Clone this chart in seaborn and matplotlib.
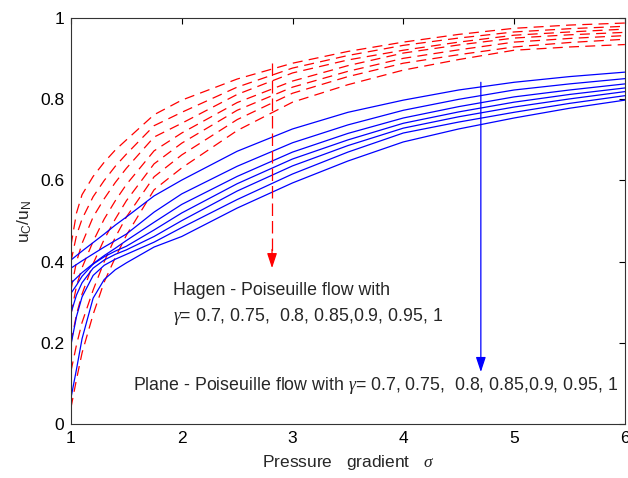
import numpy as np
import pandas as pd
import matplotlib
matplotlib.use("Agg")
import matplotlib.pyplot as plt
import seaborn as sns

# ---- data ----
sigma = [1, 1.05, 1.1, 1.2, 1.3, 1.4, 1.5, 1.75, 2, 2.5, 3, 3.5, 4, 4.5, 5, 5.5, 6]

hagen_1 = [0.44, 0.52, 0.565, 0.61, 0.645, 0.675, 0.70, 0.762, 0.798, 0.85, 0.889, 0.918, 0.941, 0.96, 0.975, 0.983, 0.988]
hagen_2 = [0.40, 0.465, 0.505, 0.56, 0.60, 0.635, 0.665, 0.735, 0.768, 0.83, 0.877, 0.908, 0.933, 0.951, 0.966, 0.974, 0.98]
hagen_3 = [0.33, 0.40, 0.445, 0.51, 0.555, 0.595, 0.63, 0.707, 0.741, 0.812, 0.865, 0.897, 0.921, 0.941, 0.958, 0.966, 0.973]
hagen_4 = [0.27, 0.34, 0.385, 0.45, 0.505, 0.55, 0.59, 0.673, 0.717, 0.792, 0.845, 0.883, 0.914, 0.934, 0.951, 0.959, 0.965]
hagen_5 = [0.20, 0.27, 0.32, 0.395, 0.455, 0.505, 0.55, 0.641, 0.692, 0.773, 0.830, 0.869, 0.901, 0.922, 0.941, 0.95, 0.957]
hagen_6 = [0.13, 0.195, 0.25, 0.33, 0.40, 0.46, 0.51, 0.609, 0.663, 0.75, 0.815, 0.856, 0.889, 0.91, 0.929, 0.94, 0.948]
hagen_7 = [0.04, 0.11, 0.175, 0.27, 0.35, 0.41, 0.465, 0.577, 0.631, 0.723, 0.793, 0.836, 0.872, 0.898, 0.921, 0.929, 0.935]

plane_1 = [0.404, 0.415, 0.426, 0.447, 0.468, 0.49, 0.51, 0.562, 0.601, 0.672, 0.727, 0.768, 0.798, 0.823, 0.842, 0.856, 0.867]
plane_2 = [0.384, 0.393, 0.402, 0.419, 0.436, 0.452, 0.468, 0.522, 0.567, 0.635, 0.693, 0.737, 0.773, 0.8, 0.823, 0.838, 0.851]
plane_3 = [0.347, 0.36, 0.373, 0.395, 0.415, 0.433, 0.452, 0.497, 0.541, 0.61, 0.670, 0.716, 0.754, 0.782, 0.806, 0.823, 0.838]
plane_4 = [0.322, 0.342, 0.364, 0.394, 0.412, 0.426, 0.438, 0.478, 0.52, 0.592, 0.653, 0.7, 0.741, 0.769, 0.793, 0.812, 0.828]
plane_5 = [0.273, 0.318, 0.348, 0.384, 0.404, 0.418, 0.429, 0.462, 0.501, 0.574, 0.636, 0.686, 0.729, 0.757, 0.781, 0.801, 0.819]
plane_6 = [0.195, 0.265, 0.313, 0.366, 0.391, 0.406, 0.418, 0.448, 0.484, 0.553, 0.616, 0.67, 0.717, 0.744, 0.768, 0.79, 0.809]
plane_7 = [0.064, 0.135, 0.21, 0.31, 0.356, 0.38, 0.397, 0.436, 0.462, 0.532, 0.594, 0.648, 0.695, 0.727, 0.754, 0.778, 0.798]

hagen = [hagen_1, hagen_2, hagen_3, hagen_4, hagen_5, hagen_6, hagen_7]
plane = [plane_1, plane_2, plane_3, plane_4, plane_5, plane_6, plane_7]

x_ticks = [1, 2, 3, 4, 5, 6]
y_ticks = [0, 0.2, 0.4, 0.6, 0.8, 1]
y_tick_labels = ["0", "0.2", "0.4", "0.6", "0.8", "1"]

hagen_text_1 = "Hagen - Poiseuille flow with"
hagen_text_2 = r"$\gamma$= 0.7, 0.75,  0.8, 0.85,0.9, 0.95, 1"
plane_text = r"Plane - Poiseuille flow with $\gamma$= 0.7, 0.75,  0.8, 0.85,0.9, 0.95, 1"

# ---- styling ----
sns.set_style("white")
plt.rcParams["font.family"] = ["Liberation Sans", "DejaVu Sans"]
plt.rcParams["mathtext.fontset"] = "custom"
plt.rcParams["mathtext.it"] = "Liberation Serif:italic"
plt.rcParams["mathtext.rm"] = "Liberation Sans"

FS = 12.5
FS_NOTE = 12.8

rows = []
for i, ys in enumerate(hagen):
    for s, v in zip(sigma, ys):
        rows.append(("hagen", i, s, v))
for i, ys in enumerate(plane):
    for s, v in zip(sigma, ys):
        rows.append(("plane", i, s, v))
df = pd.DataFrame(rows, columns=["flow", "curve", "sigma", "ratio"])

fig = plt.figure(figsize=(6.28, 4.78), dpi=100)
ax = fig.add_axes([0.113, 0.113, 0.882, 0.849])

for (flow, curve), sub in df.groupby(["flow", "curve"], sort=False):
    color = "#ff0000" if flow == "hagen" else "#0000ff"
    sns.lineplot(data=sub, x="sigma", y="ratio", ax=ax, color=color,
                 linewidth=0.9, estimator=None, sort=False, legend=False)
    line = ax.lines[-1]
    if flow == "hagen":
        line.set_dashes((8, 5))

ax.set_xlim(1, 6)
ax.set_ylim(0, 1)
ax.set_xticks(x_ticks)
ax.set_xticklabels([str(t) for t in x_ticks])
ax.set_yticks(y_ticks)
ax.set_yticklabels(y_tick_labels)
ax.tick_params(direction="in", top=True, right=True, length=4, width=0.8,
               labelsize=FS, colors="black", pad=5)
for sp in ax.spines.values():
    sp.set_color("#333333")
    sp.set_linewidth(0.8)

ax.set_xlabel(r"Pressure   gradient   $\sigma$", fontsize=FS, labelpad=5)
ax.set_ylabel(r"u$_{\rm C}$/u$_{\rm N}$", fontsize=FS, labelpad=4)

# arrows
ax.plot([2.815, 2.815], [0.889, 0.42], color="#ff0000", linewidth=0.9, dashes=(10, 4))
ax.annotate("", xy=(2.815, 0.384), xytext=(2.815, 0.43),
            arrowprops=dict(arrowstyle="-|>,head_length=0.9,head_width=0.3",
                            color="#ff0000", lw=0.9, shrinkA=0, shrinkB=0))
ax.annotate("", xy=(4.70, 0.128), xytext=(4.70, 0.842),
            arrowprops=dict(arrowstyle="-|>,head_length=0.9,head_width=0.3",
                            color="#0000ff", lw=0.9, shrinkA=0, shrinkB=0))

ax.text(1.92, 0.330, hagen_text_1, fontsize=FS_NOTE, va="center", ha="left")
ax.text(1.92, 0.266, hagen_text_2, fontsize=FS_NOTE, va="center", ha="left")
ax.text(1.56, 0.096, plane_text, fontsize=FS_NOTE, va="center", ha="left")

fig.savefig("out.png", dpi=100)
